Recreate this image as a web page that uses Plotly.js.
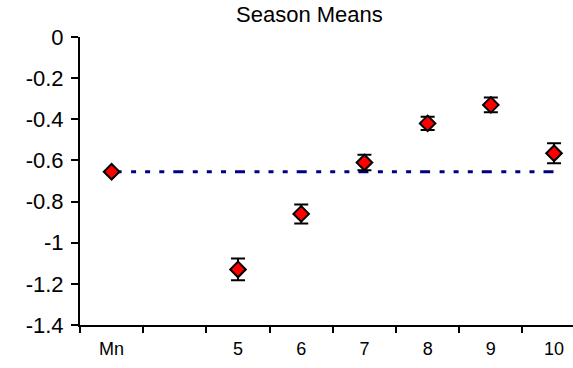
<!DOCTYPE html>
<html>
<head>
<meta charset="utf-8">
<script src="https://cdn.plot.ly/plotly-3.0.1.min.js"></script>
<style>html,body{margin:0;padding:0;background:#fff;}#chart{width:573px;height:368px;}</style>
</head>
<body>
<div id="chart"></div>
<script>
// Data
const categories = ["Mn", " ", "5", "6", "7", "8", "9", "10"];
const meanLabel = ["Mn"];
const meanValue = [-0.655];
const seasonLabels = ["5", "6", "7", "8", "9", "10"];
const seasonValues = [-1.13, -0.86, -0.61, -0.42, -0.33, -0.565];
const seasonErrors = [0.053, 0.046, 0.038, 0.032, 0.036, 0.049];
const refLineX = ["Mn", "10"];
const refLineY = [-0.655, -0.655];
const yTickVals = [0, -0.2, -0.4, -0.6, -0.8, -1, -1.2, -1.4];
const yTickText = ["0", "-0.2", "-0.4", "-0.6", "-0.8", "-1", "-1.2", "-1.4"];

const FONT = "Liberation Sans, Arial, sans-serif";
const markerStyle = {symbol: "diamond", size: 12, color: "#ff0000", line: {color: "#000000", width: 2}};

const traces = [
  {x: refLineX, y: refLineY, mode: "lines", type: "scatter", hoverinfo: "skip",
   line: {color: "#000080", width: 3, dash: "10px,9.5px,5px,9px,5px,9.2px,5px,9px"}},
  {x: meanLabel, y: meanValue, mode: "markers", type: "scatter", marker: markerStyle},
  {x: seasonLabels, y: seasonValues, mode: "markers", type: "scatter", marker: markerStyle,
   error_y: {type: "data", array: seasonErrors, visible: true, color: "#000000", thickness: 2, width: 7}}
];

const layout = {
  width: 573, height: 368,
  margin: {l: 80, r: 0, t: 37, b: 43},
  paper_bgcolor: "#ffffff", plot_bgcolor: "#ffffff",
  showlegend: false,
  font: {family: FONT, color: "#000000"},
  title: {text: "Season Means", font: {family: FONT, size: 22, color: "#000000"},
          xref: "container", x: 0.54, xanchor: "center", yref: "container", y: 0.962, yanchor: "middle"},
  xaxis: {type: "category", categoryorder: "array", categoryarray: categories,
          range: [-0.5, 7.3], tickson: "boundaries", ticks: "outside", ticklen: 6, tickwidth: 2,
          tickcolor: "#000", showline: true, linecolor: "#000", linewidth: 2, showgrid: false,
          zeroline: false, ticklabelstandoff: 6,
          tickfont: {family: FONT, size: 18, color: "#000"}, fixedrange: true},
  yaxis: {range: [-1.4, 0], tickmode: "array", tickvals: yTickVals, ticktext: yTickText,
          ticks: "outside", ticklen: 7, tickwidth: 2, tickcolor: "#000", showline: true,
          linecolor: "#000", linewidth: 2, showgrid: false, zeroline: false, ticklabelstandoff: 3,
          tickfont: {family: FONT, size: 22, color: "#000"}, fixedrange: true}
};

Plotly.newPlot("chart", traces, layout, {staticPlot: true, displayModeBar: false});
</script>
</body>
</html>
